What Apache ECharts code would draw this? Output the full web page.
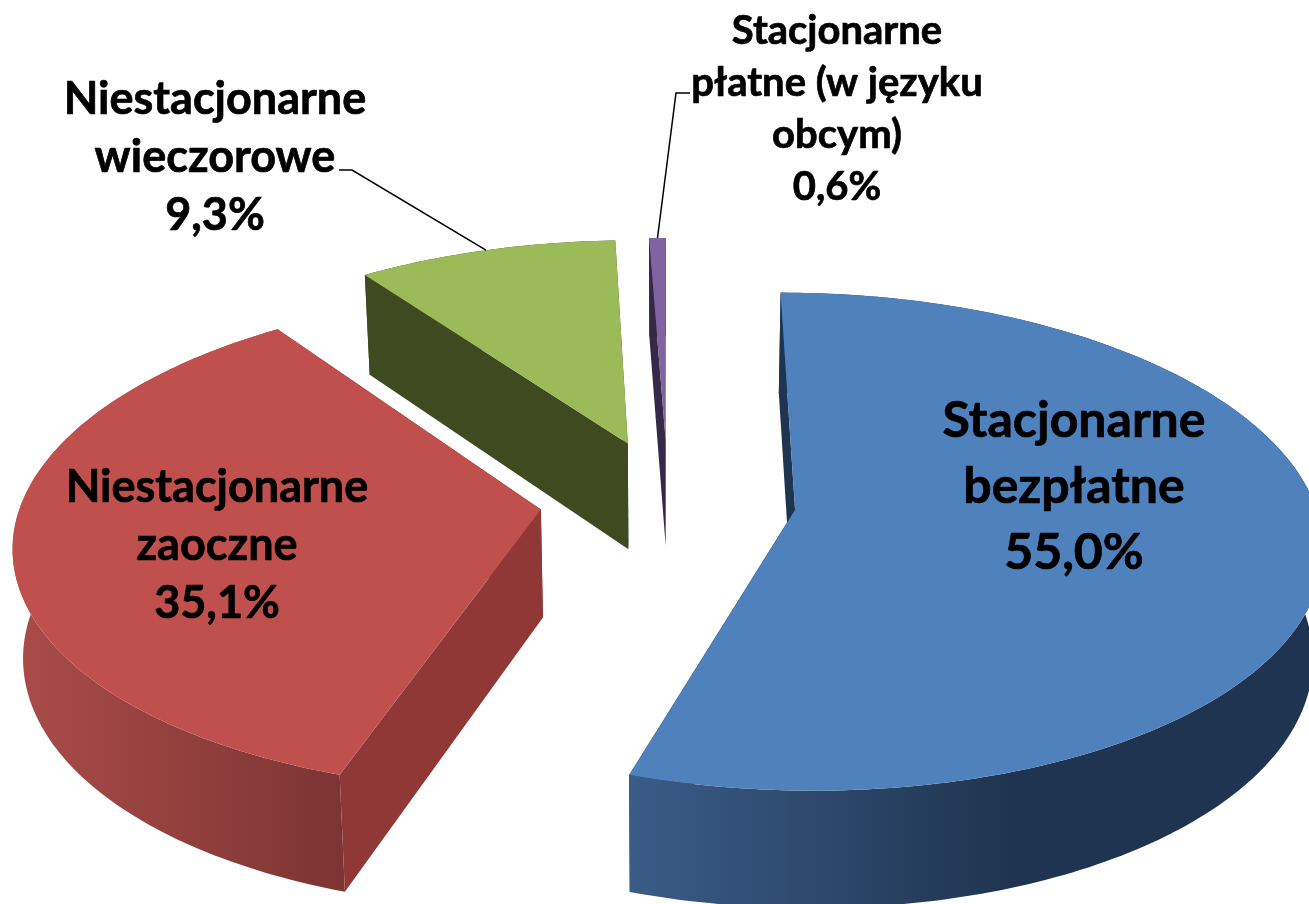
<!DOCTYPE html>
<html>
<head>
<meta charset="utf-8">
<style>
  html, body { margin: 0; background: #fff; }
  #chartDom { width: 1309px; height: 904px; }
</style>
<script src="https://cdn.jsdelivr.net/npm/echarts@6/dist/echarts.min.js"></script>
</head>
<body>
<div id="chartDom"></div>
<script>
const categories = ["Stacjonarne\nbezpłatne", "Niestacjonarne\nzaoczne", "Niestacjonarne\nwieczorowe", "Stacjonarne\npłatne (w języku\nobcym)"];
const values = [55.0, 35.1, 9.3, 0.6];
const topColors = ["#4f81bd", "#c0504d", "#9bbb59", "#8064a2"];
const cutColors = ["#1f3450", "#8f3836", "#3f4a20", "#362848"];

// ---- perspective of the pie, fitted to the picture
const total = values.reduce((a, b) => a + b, 0);
const startAngle = 0, radius = 504, radiusX = 519, explode = 128;
const camX = 668, horizon = -1400, camA = 1900, camD = 3950;

// label boxes: centre x, centre y, font size, line height
const labelBoxes = [
  { x: 1074, y: 487, size: 50, line: 66 },
  { x: 217, y: 545, size: 45, line: 58 },
  { x: 215, y: 157, size: 45, line: 58 },
  { x: 837, y: 109, size: 40, line: 52 }
];
// elbow of the leader lines (only the two small slices have one)
const leaders = [null, null, [[352, 170], [339, 170]], [[676, 93], [690, 93]]];

function project(X, Y) {
  const s = camD / (camD + Y);
  return [camX + X * s, horizon + camA * s, s];
}
function dropWall(p) {
  return [camX + (p[0] - camX) * 0.984, p[1] + 42.6 + 65 * p[2]];
}
function sinD(a) { return Math.sin(a * Math.PI / 180); }
function cosD(a) { return Math.cos(a * Math.PI / 180); }

function renderSlice(params, api) {
  const i = params.dataIndex;
  let before = 0;
  for (let k = 0; k < i; k++) before += values[k];
  const a0 = startAngle + before / total * 360;
  const a1 = a0 + api.value(1) / total * 360;
  const mid = (a0 + a1) / 2;
  const ox = explode * sinD(mid), oy = explode * cosD(mid);
  const onArc = (a) => project(ox + radiusX * sinD(a), oy + radius * cosD(a));

  const apex = project(ox, oy);
  const arc = [];
  for (let a = a0; a < a1; a += 1) arc.push(onArc(a));
  arc.push(onArc(a1));
  const first = arc[0], last = arc[arc.length - 1];

  const children = [];
  const poly = (points, fill) => children.push({
    type: "polygon",
    shape: { points: points.map((p) => [p[0], p[1]]) },
    style: { fill: fill, stroke: null }
  });

  // far cut face goes under the outer wall
  poly([apex, last, dropWall(last), dropWall(apex)], cutColors[i]);
  // outer wall, shaded from left to right
  const shade = i === 0
    ? [{ offset: 0, color: "#3a5c87" }, { offset: 0.55, color: "#1f3450" }, { offset: 1, color: "#1f3450" }]
    : i === 1
      ? [{ offset: 0, color: "#aa4c49" }, { offset: 1, color: "#7c3432" }]
      : null;
  poly(arc.concat(arc.slice().reverse().map(dropWall)),
    shade ? new echarts.graphic.LinearGradient(0, 0, 1, 0, shade) : cutColors[i]);
  poly([apex, first, dropWall(first), dropWall(apex)], cutColors[i]);
  // top
  poly([apex].concat(arc), topColors[i]);

  if (leaders[i]) {
    children.push({
      type: "polyline",
      shape: { points: [onArc(mid).slice(0, 2)].concat(leaders[i]) },
      style: { stroke: "#000", lineWidth: 1.5, fill: null }
    });
  }
  const box = labelBoxes[i];
  children.push({
    type: "text",
    x: box.x,
    y: box.y,
    style: {
      text: categories[i] + "\n" + values[i].toFixed(1).replace(".", ",") + "%",
      fill: "#000",
      stroke: "#000",
      lineWidth: 0.7,
      font: "bold " + box.size + "px Lato",
      lineHeight: box.line,
      align: "center",
      verticalAlign: "middle"
    }
  });
  return { type: "group", children: children };
}

let pieChart = echarts.init(document.getElementById("chartDom"));
pieChart.setOption({
  animation: false,
  backgroundColor: "#fff",
  series: [
    {
      type: "custom",
      coordinateSystem: "none",
      renderItem: renderSlice,
      data: values.map((v, i) => [i, v])
    }
  ]
});
</script>
</body>
</html>
